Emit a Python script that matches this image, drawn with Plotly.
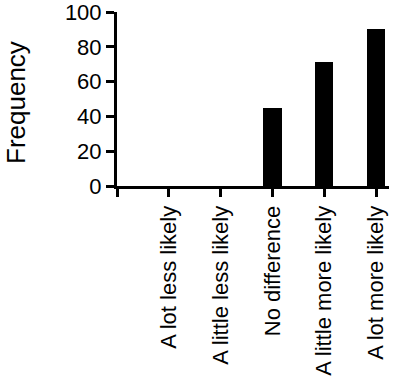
import plotly.graph_objects as go

categories = ["A lot less likely", "A little less likely", "No difference",
              "A little more likely", "A lot more likely"]
frequency = [0, 0, 45, 71, 90]
y_ticks = [0, 20, 40, 60, 80, 100]

positions = list(range(1, len(categories) + 1))

fig = go.Figure(go.Bar(x=positions, y=frequency, width=0.35,
                       marker=dict(color="black", line=dict(width=0))))

FONT = "Liberation Sans, Arial, sans-serif"
W, H = 401, 384
L, R, T, B = 117, 12, 12, 198
pw = W - L - R
ph = H - T - B

fig.update_layout(
    width=W, height=H,
    margin=dict(l=L, r=R, t=T, b=B, pad=0),
    plot_bgcolor="white", paper_bgcolor="white",
    font=dict(family=FONT, size=22, color="black"),
    showlegend=False,
    bargap=0,
)
fig.update_xaxes(
    range=[0, 5.25], tickmode="array", tickvals=[0] + positions,
    ticktext=[""] + categories, tickangle=-90, automargin=False,
    ticklabeloverflow="allow",
    showline=True, linecolor="black", linewidth=3,
    ticks="outside", ticklen=8, tickwidth=3, tickcolor="black",
    showgrid=False, zeroline=False,
    tickfont=dict(family=FONT, size=22, color="black"),
)
fig.update_yaxes(
    range=[0, 100], tickmode="array", tickvals=y_ticks, automargin=False,
    ticklabeloverflow="allow",
    showline=True, linecolor="black", linewidth=3,
    ticks="outside", ticklen=8, tickwidth=3, tickcolor="black",
    showgrid=False, zeroline=False,
    tickfont=dict(family=FONT, size=22, color="black"),
)
fig.add_annotation(
    text="Frequency", textangle=-90, showarrow=False,
    xref="paper", yref="paper",
    x=(16 - L) / pw, y=(H - B - 103) / ph,
    xanchor="center", yanchor="middle",
    font=dict(family=FONT, size=26, color="black"),
)

fig.write_html(
    "out.html",
    config={"displayModeBar": False},
    post_script="document.body.style.margin='0';"
                "document.documentElement.style.overflow='hidden';",
)
